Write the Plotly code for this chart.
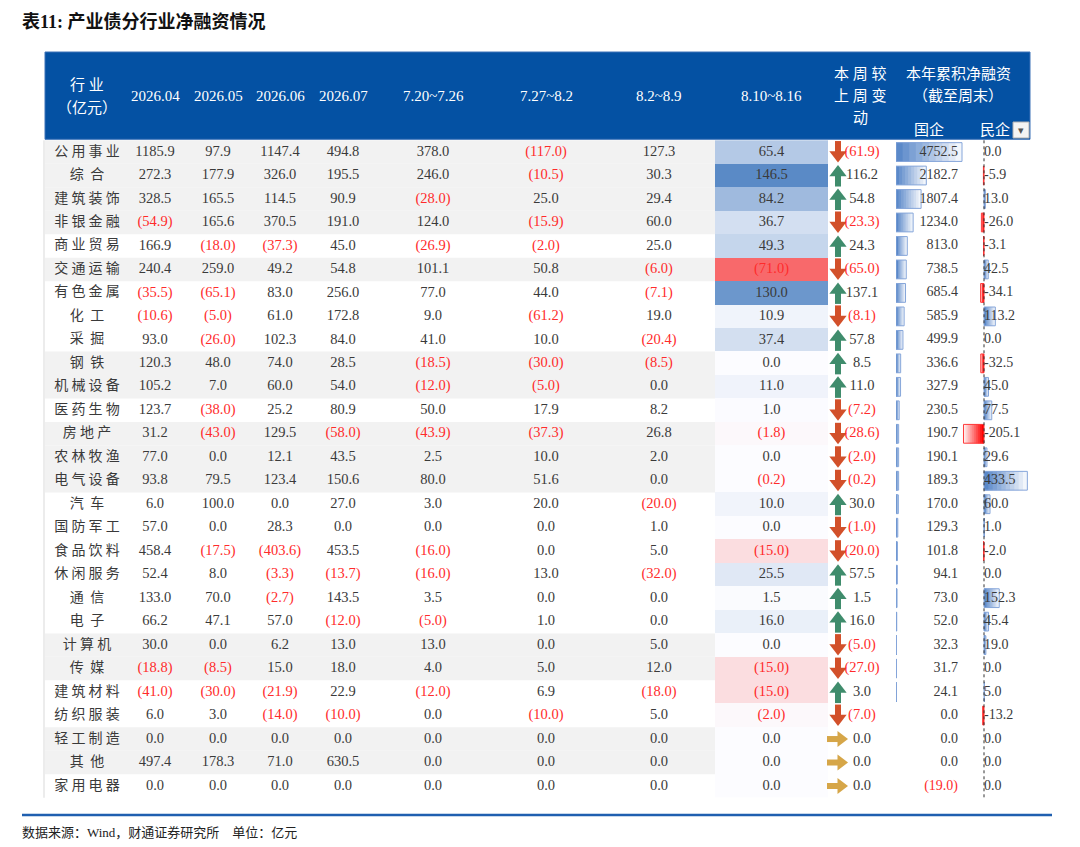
import plotly.graph_objects as go

# ---- data (亿元) ----
industries = ['公用事业', '综合', '建筑装饰', '非银金融', '商业贸易', '交通运输', '有色金属',
              '化工', '采掘', '钢铁', '机械设备', '医药生物', '房地产', '农林牧渔', '电气设备',
              '汽车', '国防军工', '食品饮料', '休闲服务', '通信', '电子', '计算机', '传媒',
              '建筑材料', '纺织服装', '轻工制造', '其他', '家用电器']

m2604 = [1185.9, 272.3, 328.5, -54.9, 166.9, 240.4, -35.5, -10.6, 93.0, 120.3, 105.2, 123.7, 31.2, 77.0,
         93.8, 6.0, 57.0, 458.4, 52.4, 133.0, 66.2, 30.0, -18.8, -41.0, 6.0, 0.0, 497.4, 0.0]
m2605 = [97.9, 177.9, 165.5, 165.6, -18.0, 259.0, -65.1, -5.0, -26.0, 48.0, 7.0, -38.0, -43.0, 0.0,
         79.5, 100.0, 0.0, -17.5, 8.0, 70.0, 47.1, 0.0, -8.5, -30.0, 3.0, 0.0, 178.3, 0.0]
m2606 = [1147.4, 326.0, 114.5, 370.5, -37.3, 49.2, 83.0, 61.0, 102.3, 74.0, 60.0, 25.2, 129.5, 12.1,
         123.4, 0.0, 28.3, -403.6, -3.3, -2.7, 57.0, 6.2, 15.0, -21.9, -14.0, 0.0, 71.0, 0.0]
m2607 = [494.8, 195.5, 90.9, 191.0, 45.0, 54.8, 256.0, 172.8, 84.0, 28.5, 54.0, 80.9, -58.0, 43.5,
         150.6, 27.0, 0.0, 453.5, -13.7, 143.5, -12.0, 13.0, 18.0, 22.9, -10.0, 0.0, 630.5, 0.0]
wk_0720 = [378.0, 246.0, -28.0, 124.0, -26.9, 101.1, 77.0, 9.0, 41.0, -18.5, -12.0, 50.0, -43.9, 2.5,
           80.0, 3.0, 0.0, -16.0, -16.0, 3.5, -5.0, 13.0, 4.0, -12.0, 0.0, 0.0, 0.0, 0.0]
wk_0727 = [-117.0, -10.5, 25.0, -15.9, -2.0, 50.8, 44.0, -61.2, 10.0, -30.0, -5.0, 17.9, -37.3, 10.0,
           51.6, 20.0, 0.0, 0.0, 13.0, 0.0, 1.0, 0.0, 5.0, 6.9, -10.0, 0.0, 0.0, 0.0]
wk_0802 = [127.3, 30.3, 29.4, 60.0, 25.0, -6.0, -7.1, 19.0, -20.4, -8.5, 0.0, 8.2, 26.8, 2.0,
           0.0, -20.0, 1.0, 5.0, -32.0, 0.0, 0.0, 5.0, 12.0, -18.0, 5.0, 0.0, 0.0, 0.0]
wk_0810 = [65.4, 146.5, 84.2, 36.7, 49.3, -71.0, 130.0, 10.9, 37.4, 0.0, 11.0, 1.0, -1.8, 0.0,
           -0.2, 10.0, 0.0, -15.0, 25.5, 1.5, 16.0, 0.0, -15.0, -15.0, -2.0, 0.0, 0.0, 0.0]
wow_change = [-61.9, 116.2, 54.8, -23.3, 24.3, -65.0, 137.1, -8.1, 57.8, 8.5, 11.0, -7.2, -28.6, -2.0,
              -0.2, 30.0, -1.0, -20.0, 57.5, 1.5, 16.0, -5.0, -27.0, 3.0, -7.0, 0.0, 0.0, 0.0]
ytd_soe = [4752.5, 2182.7, 1807.4, 1234.0, 813.0, 738.5, 685.4, 585.9, 499.9, 336.6, 327.9, 230.5, 190.7,
           190.1, 189.3, 170.0, 129.3, 101.8, 94.1, 73.0, 52.0, 32.3, 31.7, 24.1, 0.0, 0.0, 0.0, -19.0]
ytd_private = [0.0, -5.9, 13.0, -26.0, -3.1, 42.5, -34.1, 113.2, 0.0, -32.5, 45.0, 77.5, -205.1, 29.6,
               433.5, 60.0, 1.0, -2.0, 0.0, 152.3, 45.4, 19.0, 0.0, 5.0, -13.2, 0.0, 0.0, 0.0]

period_labels = ['2026.04', '2026.05', '2026.06', '2026.07', '7.20~7.26', '7.27~8.2', '8.2~8.9', '8.10~8.16']

# rows with grey band (table style)
grey_rows = [0, 1, 2, 3, 5, 9, 10, 12, 13, 14, 21, 22, 25, 26]

# ---- layout / styles ----
W, H = 1080, 847
OFF = 8  # page body margin, so the pixel grid is shifted by this much
ROW_TOP, ROW_H = 140.3, 23.48
n = len(industries)
yc = [ROW_TOP + (i + 0.5) * ROW_H for i in range(n)]
y_edges = [ROW_TOP + i * ROW_H for i in range(n + 1)]
ROW_BOTTOM = y_edges[-1]

TABLE_L, TABLE_R = 45, 1030
HEAD_TOP = 52
col_centers = [155, 218, 280, 343, 433, 546, 659]
HEAT_L, HEAT_R = 715, 828
HEAT_X = (HEAT_L + HEAT_R) / 2
ARROW_X, CHG_X = 838, 862
SOE_L, SOE_R = 896, 1030
SOE_PER_PX = 4752.5 / 66      # data-bar scale of the 国企 column
SOE_TEXT_RIGHT = 958
PE_L, PE_R, PE_ZERO = 940, 1030, 984
PE_PER_PX = 10.0              # data-bar scale of the 民企 column
BAR_STEPS = 10                # gradient fill steps of the data bars

BLUE_HEAD = '#0451a3'
DARK = '#3a3a3a'
RED = '#ff2b2b'
FONT = 'Liberation Serif, Noto Sans CJK SC, serif'
CJK = 'Noto Sans CJK SC, sans-serif'


def acct(v):
    return f'({abs(v):.1f})' if v < 0 else f'{v:.1f}'


def col(v):
    return RED if v < 0 else DARK


def mix(c, t):
    # blend hex colour c toward white; t=1 -> c, t=0 -> white
    r, g, b = int(c[1:3], 16), int(c[3:5], 16), int(c[5:7], 16)
    return 'rgb(%d,%d,%d)' % tuple(round(255 + (x - 255) * t) for x in (r, g, b))


def add_data_bars(values, axis, pos_color, neg_color, pos_line, neg_line):
    vals = [v if v != 0 else None for v in values]
    # excel style gradient bars: stacked overlays, darkest next to the axis
    for k in range(BAR_STEPS):
        frac = (BAR_STEPS - k) / BAR_STEPS
        t = 0.08 + 0.92 * k / (BAR_STEPS - 1)
        fig.add_trace(go.Bar(
            x=[None if v is None else v * frac for v in vals], y=yc, orientation='h', xaxis=axis, yaxis='y',
            width=ROW_H * 0.8,
            marker=dict(color=[mix(pos_color if (v or 0) > 0 else neg_color, t) for v in vals],
                        line=dict(width=0)),
            hoverinfo='skip', showlegend=False))
    fig.add_trace(go.Bar(
        x=vals, y=yc, orientation='h', xaxis=axis, yaxis='y', width=ROW_H * 0.8,
        marker=dict(color='rgba(0,0,0,0)',
                    line=dict(color=[pos_line if (v or 0) > 0 else neg_line for v in vals], width=1)),
        hoverinfo='skip', showlegend=False))


fig = go.Figure()
shapes = []
annotations = []

# grey bands
for i in grey_rows:
    shapes.append(dict(type='rect', xref='x', yref='y', x0=TABLE_L, x1=HEAT_L, y0=y_edges[i], y1=y_edges[i + 1],
                       fillcolor='#f2f2f2', line=dict(width=0), layer='below'))
shapes.append(dict(type='line', xref='x', yref='y', x0=TABLE_L - 1, x1=TABLE_L - 1, y0=ROW_TOP, y1=ROW_BOTTOM,
                   line=dict(color='#d9d9d9', width=1)))

# header block
shapes.append(dict(type='rect', xref='x', yref='y', x0=TABLE_L, x1=TABLE_R, y0=HEAD_TOP, y1=ROW_TOP - 1,
                   fillcolor=BLUE_HEAD, line=dict(color='#3d73b8', width=1), layer='below'))

# heat map column 8.10~8.16
fig.add_trace(go.Heatmap(
    z=[[v] for v in wk_0810], x=[HEAT_L, HEAT_R], y=y_edges,
    zmin=min(wk_0810), zmax=max(wk_0810),
    colorscale=[[0, '#f8696b'], [-min(wk_0810) / (max(wk_0810) - min(wk_0810)), '#fcfcff'], [1, '#5a8ac6']],
    showscale=False, hoverinfo='skip'))

# industry labels
fig.add_trace(go.Scatter(
    x=[87] * n, y=yc, mode='text', text=[' '.join(s) if len(s) > 2 else '  '.join(s) for s in industries],
    textfont=dict(family=CJK, size=14, color=DARK), hoverinfo='skip', showlegend=False))

# period columns
for cx, series in zip(col_centers, [m2604, m2605, m2606, m2607, wk_0720, wk_0727, wk_0802]):
    fig.add_trace(go.Scatter(
        x=[cx] * n, y=yc, mode='text', text=[acct(v) for v in series],
        textfont=dict(family=FONT, size=14.5, color=[col(v) for v in series]),
        hoverinfo='skip', showlegend=False))

fig.add_trace(go.Scatter(
    x=[HEAT_X] * n, y=yc, mode='text', text=[acct(v) for v in wk_0810],
    textfont=dict(family=FONT, size=14.5, color=[col(v) for v in wk_0810]),
    hoverinfo='skip', showlegend=False))

# week-on-week change: arrow icons built from a head marker plus a thick stem
up = [i for i, v in enumerate(wow_change) if v > 0]
down = [i for i, v in enumerate(wow_change) if v < 0]
flat = [i for i, v in enumerate(wow_change) if v == 0]
GREEN_A, RED_A, GOLD_A = '#3f8c6c', '#d2502a', '#d6a648'
fig.add_trace(go.Scatter(
    x=[ARROW_X] * len(up), y=[yc[i] + 4 for i in up], mode='markers',
    marker=dict(symbol='line-ns', size=10, line=dict(color=GREEN_A, width=6)),
    hoverinfo='skip', showlegend=False))
fig.add_trace(go.Scatter(
    x=[ARROW_X] * len(up), y=[yc[i] - 3 for i in up], mode='markers',
    marker=dict(symbol='triangle-up', size=15, color=GREEN_A, line=dict(width=0)),
    hoverinfo='skip', showlegend=False))
fig.add_trace(go.Scatter(
    x=[ARROW_X] * len(down), y=[yc[i] - 4 for i in down], mode='markers',
    marker=dict(symbol='line-ns', size=10, line=dict(color=RED_A, width=6)),
    hoverinfo='skip', showlegend=False))
fig.add_trace(go.Scatter(
    x=[ARROW_X] * len(down), y=[yc[i] + 3 for i in down], mode='markers',
    marker=dict(symbol='triangle-down', size=15, color=RED_A, line=dict(width=0)),
    hoverinfo='skip', showlegend=False))
fig.add_trace(go.Scatter(
    x=[ARROW_X - 4] * len(flat), y=[yc[i] for i in flat], mode='markers',
    marker=dict(symbol='line-ew', size=10, line=dict(color=GOLD_A, width=6)),
    hoverinfo='skip', showlegend=False))
fig.add_trace(go.Scatter(
    x=[ARROW_X + 3] * len(flat), y=[yc[i] for i in flat], mode='markers',
    marker=dict(symbol='triangle-right', size=14, color=GOLD_A, line=dict(width=0)),
    hoverinfo='skip', showlegend=False))
fig.add_trace(go.Scatter(
    x=[CHG_X] * n, y=yc, mode='text', text=[acct(v) for v in wow_change],
    textfont=dict(family=FONT, size=14.5, color=[col(v) for v in wow_change]),
    hoverinfo='skip', showlegend=False))

# YTD data bars - state owned (text on the same subplot so it sits above the bars)
add_data_bars([v if v > 0 else 0 for v in ytd_soe], 'x2', '#5b89c9', '#5b89c9', '#86a6da', '#86a6da')
fig.add_trace(go.Scatter(
    x=[(SOE_TEXT_RIGHT - SOE_L) * SOE_PER_PX] * n, y=yc, mode='text', textposition='middle left',
    text=[acct(v) for v in ytd_soe], xaxis='x2', yaxis='y',
    textfont=dict(family=FONT, size=14, color=[col(v) for v in ytd_soe]),
    hoverinfo='skip', showlegend=False))

# YTD data bars - private
add_data_bars(ytd_private, 'x3', '#5b89c9', '#ff0000', '#86a6da', '#ff3b3b')
fig.add_trace(go.Scatter(
    x=[0] * n, y=yc, mode='text', textposition='middle right', text=[f'{v:.1f}' for v in ytd_private],
    xaxis='x3', yaxis='y', textfont=dict(family=FONT, size=14, color=DARK),
    hoverinfo='skip', showlegend=False))
shapes.append(dict(type='line', xref='x', yref='y', x0=PE_ZERO, x1=PE_ZERO, y0=ROW_TOP, y1=ROW_BOTTOM,
                   line=dict(color='#333333', width=1, dash='dot')))

# header texts
hfont = dict(family=FONT, size=15, color='white')
head_y = (HEAD_TOP + ROW_TOP) / 2
annotations.append(dict(x=87, y=85, text='行 业', font=hfont))
annotations.append(dict(x=87, y=108, text='（亿元）', font=hfont))
for cx, lab in zip(col_centers + [HEAT_X], period_labels):
    annotations.append(dict(x=cx, y=head_y, text=lab, font=hfont))
for yy, lab in zip([73, 96, 118], ['本 周 较', '上 周 变', '动']):
    annotations.append(dict(x=CHG_X - 2, y=yy, text=lab, font=hfont))
annotations.append(dict(x=958, y=74, text='本年累积净融资', font=hfont))
annotations.append(dict(x=958, y=96, text='（截至周末）', font=hfont))
annotations.append(dict(x=929, y=129, text='国企', font=hfont))
annotations.append(dict(x=995, y=129, text='民企', font=hfont))

# filter dropdown button
shapes.append(dict(type='rect', xref='x', yref='y', x0=1013, x1=1029, y0=122, y1=138,
                   fillcolor='#f4f4f4', line=dict(color='#b0b0b0', width=1)))
annotations.append(dict(x=1021, y=130, text='▾', font=dict(family='DejaVu Sans', size=11, color='#555555')))

# title and footer
annotations.append(dict(x=20, y=22, xanchor='left', text='<b>表11: 产业债分行业净融资情况</b>',
                        font=dict(family=FONT, size=18, color='#111111')))
shapes.append(dict(type='line', xref='x', yref='y', x0=22, x1=1052, y0=815, y1=815,
                   line=dict(color='#1f5fb0', width=2.5)))
annotations.append(dict(x=20, y=832, xanchor='left', text='数据来源：Wind，财通证券研究所    单位：亿元',
                        font=dict(family=FONT, size=13, color='#222222')))

for a in annotations:
    a.setdefault('xref', 'x')
    a.setdefault('yref', 'y')
    a.setdefault('showarrow', False)

fig.update_layout(
    width=W, height=H, margin=dict(l=0, r=0, t=0, b=0),
    paper_bgcolor='white', plot_bgcolor='rgba(0,0,0,0)',
    xaxis=dict(range=[OFF, W + OFF], domain=[0, 1], visible=False, fixedrange=True),
    yaxis=dict(range=[H + OFF, OFF], domain=[0, 1], visible=False, fixedrange=True),
    xaxis2=dict(range=[0, (SOE_R - SOE_L) * SOE_PER_PX], domain=[(SOE_L - OFF) / W, (SOE_R - OFF) / W],
                anchor='y', visible=False, fixedrange=True),
    xaxis3=dict(range=[-(PE_ZERO - PE_L) * PE_PER_PX, (PE_R - PE_ZERO) * PE_PER_PX],
                domain=[(PE_L - OFF) / W, (PE_R - OFF) / W],
                anchor='y', visible=False, fixedrange=True),
    barmode='overlay', shapes=shapes, annotations=annotations, showlegend=False,
)

fig.write_html('out.html')
